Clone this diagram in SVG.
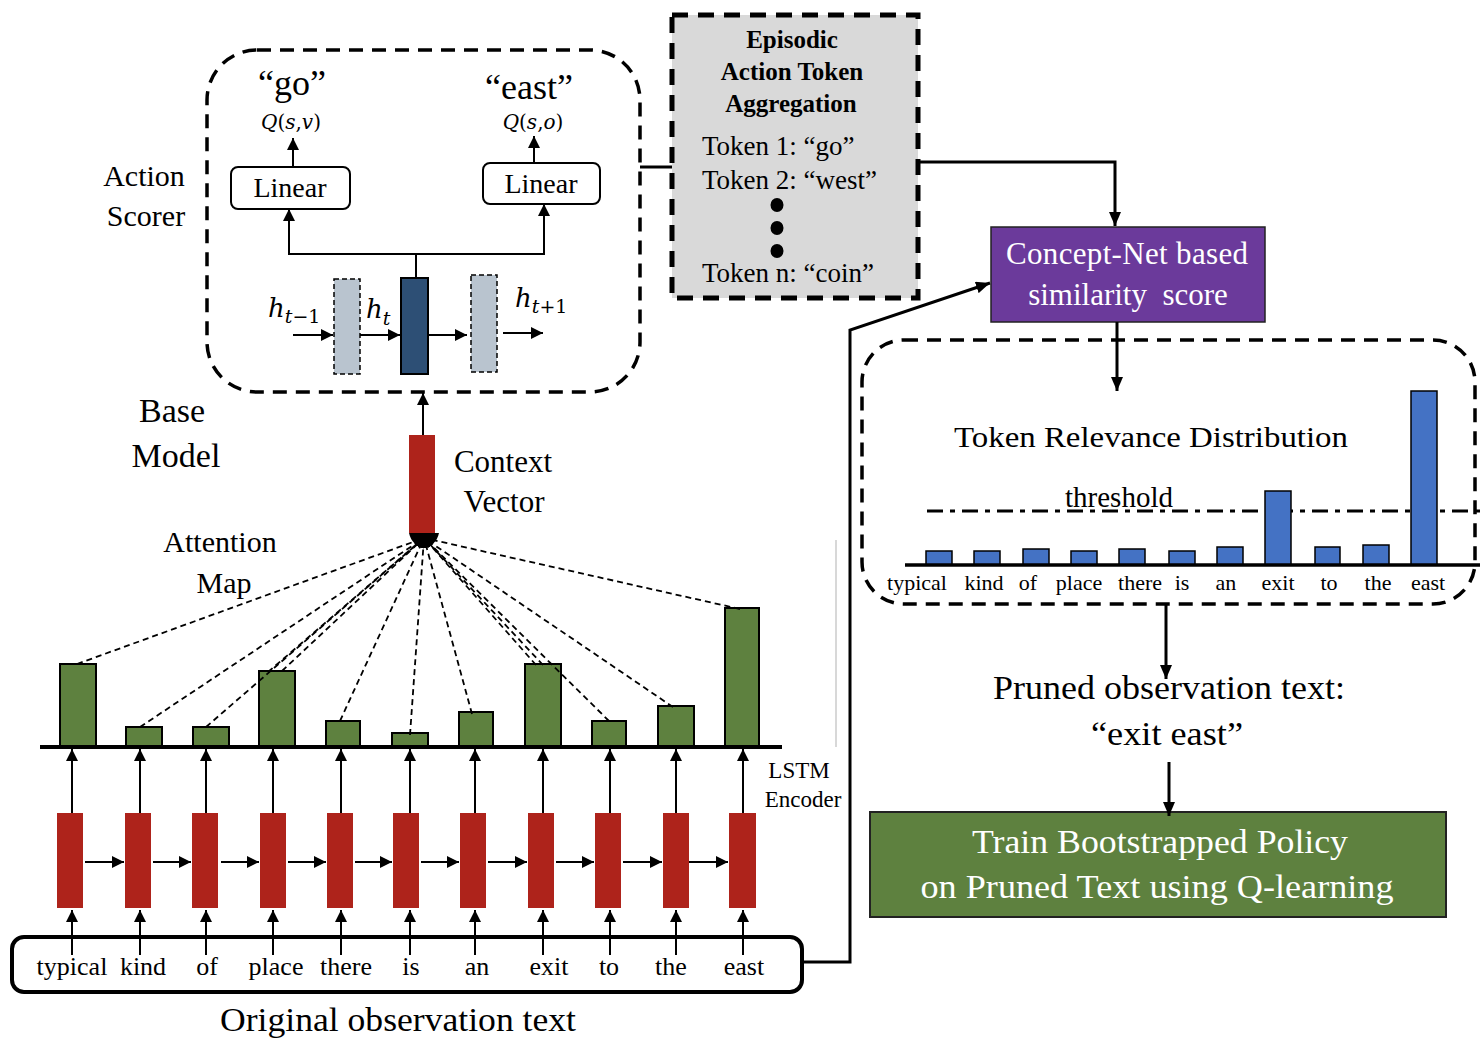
<svg xmlns="http://www.w3.org/2000/svg" width="1483" height="1045" viewBox="0 0 1483 1045">
<style>
text{font-family:"Liberation Serif","Times New Roman",serif;fill:#000}
.c{text-anchor:middle}
.w{fill:#fff}
.b{font-weight:bold}
.m{font-family:"DejaVu Serif","Liberation Serif",serif;font-style:italic}
.up{font-style:normal}
.dbox{fill:none;stroke:#000;stroke-width:3.5;stroke-dasharray:14 9}
.ln{stroke:#000;stroke-width:2;fill:none}
.lt{stroke:#000;stroke-width:3;fill:none}
.red{fill:#ae231b}
.gbar{fill:#5e813f;stroke:#000;stroke-width:2}
.bbar{fill:#4472c4;stroke:#000;stroke-width:1.5}
.att{stroke:#000;stroke-width:1.8;stroke-dasharray:6 4;fill:none}
</style>
<defs>
<marker id="a" markerUnits="userSpaceOnUse" markerWidth="12" markerHeight="12" refX="12" refY="6" orient="auto"><path d="M0,0 L12,6 L0,12 z" fill="#000"/></marker>
<marker id="ab" markerUnits="userSpaceOnUse" markerWidth="14" markerHeight="12" refX="14" refY="6" orient="auto"><path d="M0,0 L14,6 L0,12 z" fill="#000"/></marker>
<marker id="ah" markerUnits="userSpaceOnUse" markerWidth="10" markerHeight="8" refX="10" refY="4" orient="auto"><path d="M0,0 L10,4 L0,8 z" fill="#000"/></marker>
</defs>

<g id="action-scorer">
<rect class="dbox" x="207" y="50" width="433" height="342" rx="50"/>
<text class="c" x="292" y="95" font-size="36">“go”</text>
<text class="c" x="529" y="99" font-size="36">“east”</text>
<text class="c m" x="291" y="129" font-size="20">Q<tspan class="up">(</tspan>s<tspan class="up">,</tspan>v<tspan class="up">)</tspan></text>
<text class="c m" x="533" y="129" font-size="20">Q<tspan class="up">(</tspan>s<tspan class="up">,</tspan>o<tspan class="up">)</tspan></text>
<rect x="231" y="167" width="119" height="42" rx="7" fill="#fff" stroke="#000" stroke-width="2"/>
<text class="c" x="290" y="197" font-size="28">Linear</text>
<rect x="483" y="163" width="117" height="41" rx="7" fill="#fff" stroke="#000" stroke-width="2"/>
<text class="c" x="541" y="193" font-size="28">Linear</text>
<line class="ln" x1="293" y1="167" x2="293" y2="138" marker-end="url(#a)"/>
<line class="ln" x1="534" y1="163" x2="534" y2="136" marker-end="url(#a)"/>
<polyline class="ln" points="416,278 416,254 289,254 289,209" marker-end="url(#a)"/>
<polyline class="ln" points="416,254 544,254 544,204" marker-end="url(#a)"/>
<rect x="334" y="279" width="26" height="95" fill="#b9c4cf" stroke="#000" stroke-width="1.5" stroke-dasharray="5 3"/>
<rect x="401" y="278" width="27" height="96" fill="#2d4f75" stroke="#000" stroke-width="2"/>
<rect x="471" y="275" width="26" height="97" fill="#b9c4cf" stroke="#000" stroke-width="1.5" stroke-dasharray="5 3"/>
<line class="ln" x1="293" y1="335" x2="333" y2="335" marker-end="url(#a)"/>
<line class="ln" x1="360" y1="335" x2="400" y2="335" marker-end="url(#a)"/>
<line class="ln" x1="428" y1="335" x2="467" y2="335" marker-end="url(#a)"/>
<line class="ln" x1="503" y1="333" x2="543" y2="333" marker-end="url(#a)"/>
<text class="m" x="268" y="317" font-size="26">h<tspan font-size="19" dy="6">t<tspan class="up">−1</tspan></tspan></text>
<text class="m" x="366" y="318" font-size="26">h<tspan font-size="19" dy="7">t</tspan></text>
<text class="m" x="515" y="307" font-size="26">h<tspan font-size="19" dy="6">t<tspan class="up">+1</tspan></tspan></text>
</g>

<g id="labels-left">
<text class="c" x="144" y="186" font-size="30">Action</text>
<text class="c" x="146" y="226" font-size="30">Scorer</text>
<text class="c" x="172" y="422" font-size="34">Base</text>
<text class="c" x="176" y="467" font-size="34">Model</text>
<text class="c" x="220" y="552" font-size="30">Attention</text>
<text class="c" x="224" y="593" font-size="30">Map</text>
</g>

<g id="episodic">
<rect x="672" y="15" width="246" height="283" fill="#d9d9d9" stroke="#000" stroke-width="5" stroke-dasharray="16 10"/>
<text class="c b" x="792" y="48" font-size="25">Episodic</text>
<text class="c b" x="792" y="80" font-size="25">Action Token</text>
<text class="c b" x="791" y="112" font-size="25">Aggregation</text>
<text x="702" y="155" font-size="27">Token 1: “go”</text>
<text x="702" y="189" font-size="27">Token 2: “west”</text>
<ellipse cx="777" cy="205" rx="6.5" ry="7"/>
<ellipse cx="777" cy="228" rx="6.5" ry="7"/>
<ellipse cx="777" cy="251" rx="6.5" ry="7"/>
<text x="702" y="282" font-size="27">Token n: “coin”</text>
</g>

<g id="concept-net">
<rect x="991" y="227" width="274" height="95" fill="#6b3a9b" stroke="#222" stroke-width="1.5"/>
<text class="c w" x="1127" y="264" font-size="31" textLength="242">Concept-Net based</text>
<text class="c w" x="1128" y="305" font-size="31" xml:space="preserve">similarity  score</text>
</g>

<g id="relevance">
<rect class="dbox" x="862" y="340" width="613" height="264" rx="42"/>
<text class="c" x="1151" y="447" font-size="30" textLength="394" lengthAdjust="spacingAndGlyphs">Token Relevance Distribution</text>
<text class="c" x="1119" y="507" font-size="29">threshold</text>
<line x1="927" y1="511" x2="1480" y2="511" stroke="#000" stroke-width="3" stroke-dasharray="16 7 5 7"/>
<rect class="bbar" x="926" y="551" width="26" height="14"/>
<rect class="bbar" x="974" y="551" width="26" height="14"/>
<rect class="bbar" x="1023" y="549" width="26" height="16"/>
<rect class="bbar" x="1071" y="551" width="26" height="14"/>
<rect class="bbar" x="1119" y="549" width="26" height="16"/>
<rect class="bbar" x="1169" y="551" width="26" height="14"/>
<rect class="bbar" x="1217" y="547" width="26" height="18"/>
<rect class="bbar" x="1265" y="491" width="26" height="74"/>
<rect class="bbar" x="1315" y="547" width="25" height="18"/>
<rect class="bbar" x="1363" y="545" width="26" height="20"/>
<rect class="bbar" x="1411" y="391" width="26" height="174"/>
<line x1="905" y1="565" x2="1480" y2="565" stroke="#000" stroke-width="3.5"/>
<g font-size="22">
<text class="c" x="917" y="590">typical</text>
<text class="c" x="984" y="590">kind</text>
<text class="c" x="1028" y="590">of</text>
<text class="c" x="1079" y="590">place</text>
<text class="c" x="1140" y="590">there</text>
<text class="c" x="1182" y="590">is</text>
<text class="c" x="1226" y="590">an</text>
<text class="c" x="1278" y="590">exit</text>
<text class="c" x="1329" y="590">to</text>
<text class="c" x="1378" y="590">the</text>
<text class="c" x="1428" y="590">east</text>
</g>
</g>

<g id="pruned">
<text class="c" x="1169" y="699" font-size="33" textLength="352" lengthAdjust="spacingAndGlyphs">Pruned observation text:</text>
<text class="c" x="1167" y="745" font-size="33" textLength="152" lengthAdjust="spacingAndGlyphs">“exit east”</text>
</g>

<g id="train-policy">
<rect x="870" y="812" width="576" height="105" fill="#5e813f" stroke="#222" stroke-width="2"/>
<text class="c w" x="1160" y="853" font-size="34" textLength="376" lengthAdjust="spacingAndGlyphs">Train Bootstrapped Policy</text>
<text class="c w" x="1157" y="898" font-size="34" textLength="473" lengthAdjust="spacingAndGlyphs">on Pruned Text using Q-learning</text>
</g>

<g id="context-vector">
<rect class="red" x="409" y="435" width="26" height="98"/>
<path d="M409,533 L439,533 Q436,546 424,547 Q412,546 409,533 z" fill="#000"/>
<text class="c" x="503" y="472" font-size="31">Context</text>
<text class="c" x="504" y="512" font-size="31">Vector</text>
</g>

<g id="attention-bars">
<rect class="gbar" x="60" y="664" width="36" height="82"/>
<rect class="gbar" x="126" y="727" width="36" height="19"/>
<rect class="gbar" x="193" y="727" width="36" height="19"/>
<rect class="gbar" x="259" y="671" width="36" height="75"/>
<rect class="gbar" x="326" y="721" width="34" height="25"/>
<rect class="gbar" x="392" y="733" width="36" height="13"/>
<rect class="gbar" x="459" y="712" width="34" height="34"/>
<rect class="gbar" x="525" y="664" width="36" height="82"/>
<rect class="gbar" x="592" y="721" width="34" height="25"/>
<rect class="gbar" x="658" y="706" width="36" height="40"/>
<rect class="gbar" x="725" y="608" width="34" height="138"/>
<line x1="40" y1="747" x2="782" y2="747" stroke="#000" stroke-width="4"/>
</g>

<g id="lstm-encoder">
<rect class="red" x="57" y="813" width="26" height="95"/>
<rect class="red" x="125" y="813" width="26" height="95"/>
<rect class="red" x="192" y="813" width="26" height="95"/>
<rect class="red" x="260" y="813" width="26" height="95"/>
<rect class="red" x="327" y="813" width="26" height="95"/>
<rect class="red" x="393" y="813" width="26" height="95"/>
<rect class="red" x="460" y="813" width="26" height="95"/>
<rect class="red" x="528" y="813" width="26" height="95"/>
<rect class="red" x="595" y="813" width="26" height="95"/>
<rect class="red" x="663" y="813" width="26" height="95"/>
<rect class="red" x="729" y="813" width="27" height="95"/>
<text class="c" x="799" y="778" font-size="23">LSTM</text>
<text class="c" x="803" y="807" font-size="23">Encoder</text>
</g>

<g id="observation">
<rect x="12" y="937" width="790" height="55" rx="12" fill="none" stroke="#000" stroke-width="4"/>
<g font-size="26">
<text class="c" x="72" y="975">typical</text>
<text class="c" x="143" y="975">kind</text>
<text class="c" x="207" y="975">of</text>
<text class="c" x="276" y="975">place</text>
<text class="c" x="346" y="975">there</text>
<text class="c" x="411" y="975">is</text>
<text class="c" x="477" y="975">an</text>
<text class="c" x="549" y="975">exit</text>
<text class="c" x="609" y="975">to</text>
<text class="c" x="671" y="975">the</text>
<text class="c" x="744" y="975">east</text>
</g>
<text class="c" x="398" y="1031" font-size="34" textLength="356" lengthAdjust="spacingAndGlyphs">Original observation text</text>
</g>

<g id="connectors">
<line x1="640" y1="167" x2="672" y2="167" stroke="#000" stroke-width="3"/>
<polyline class="lt" points="918,162 1115,162 1115,226" marker-end="url(#ab)"/>
<polyline class="lt" points="802,962 850,962 850,330 990,283" marker-end="url(#ab)"/>
<line class="lt" x1="1117" y1="322" x2="1117" y2="391" marker-end="url(#ab)"/>
<line class="lt" x1="1166" y1="605" x2="1166" y2="679" marker-end="url(#ab)"/>
<line class="lt" x1="1169" y1="762" x2="1169" y2="816" marker-end="url(#ab)"/>
<line class="ln" x1="423" y1="435" x2="423" y2="393" marker-end="url(#a)"/>
<line x1="836" y1="540" x2="836" y2="747" stroke="#d8d8d8" stroke-width="2"/>
<g class="att">
<line x1="77" y1="664" x2="424" y2="538" marker-end="url(#ah)"/>
<line x1="140" y1="727" x2="424" y2="538" marker-end="url(#ah)"/>
<line x1="206" y1="727" x2="424" y2="538" marker-end="url(#ah)"/>
<line x1="268" y1="672" x2="424" y2="538" marker-end="url(#ah)"/>
<line x1="282" y1="671" x2="424" y2="538" marker-end="url(#ah)"/>
<line x1="340" y1="721" x2="424" y2="538" marker-end="url(#ah)"/>
<line x1="410" y1="735" x2="424" y2="538" marker-end="url(#ah)"/>
<line x1="472" y1="714" x2="424" y2="538" marker-end="url(#ah)"/>
<line x1="536" y1="665" x2="424" y2="538" marker-end="url(#ah)"/>
<line x1="543" y1="665" x2="424" y2="538" marker-end="url(#ah)"/>
<line x1="609" y1="721" x2="424" y2="538" marker-end="url(#ah)"/>
<line x1="673" y1="707" x2="424" y2="538" marker-end="url(#ah)"/>
<line x1="740" y1="609" x2="424" y2="538" marker-end="url(#ah)"/>
</g>
<g>
<line class="ln" x1="72" y1="813" x2="72" y2="749" marker-end="url(#a)"/>
<line class="ln" x1="140" y1="813" x2="140" y2="749" marker-end="url(#a)"/>
<line class="ln" x1="206" y1="813" x2="206" y2="749" marker-end="url(#a)"/>
<line class="ln" x1="273" y1="813" x2="273" y2="749" marker-end="url(#a)"/>
<line class="ln" x1="341" y1="813" x2="341" y2="749" marker-end="url(#a)"/>
<line class="ln" x1="410" y1="813" x2="410" y2="749" marker-end="url(#a)"/>
<line class="ln" x1="475" y1="813" x2="475" y2="749" marker-end="url(#a)"/>
<line class="ln" x1="543" y1="813" x2="543" y2="749" marker-end="url(#a)"/>
<line class="ln" x1="610" y1="813" x2="610" y2="749" marker-end="url(#a)"/>
<line class="ln" x1="676" y1="813" x2="676" y2="749" marker-end="url(#a)"/>
<line class="ln" x1="743" y1="813" x2="743" y2="749" marker-end="url(#a)"/>
</g>
<g>
<line class="ln" x1="72" y1="955" x2="72" y2="910" marker-end="url(#a)"/>
<line class="ln" x1="140" y1="955" x2="140" y2="910" marker-end="url(#a)"/>
<line class="ln" x1="206" y1="955" x2="206" y2="910" marker-end="url(#a)"/>
<line class="ln" x1="273" y1="955" x2="273" y2="910" marker-end="url(#a)"/>
<line class="ln" x1="341" y1="955" x2="341" y2="910" marker-end="url(#a)"/>
<line class="ln" x1="410" y1="955" x2="410" y2="910" marker-end="url(#a)"/>
<line class="ln" x1="475" y1="955" x2="475" y2="910" marker-end="url(#a)"/>
<line class="ln" x1="543" y1="955" x2="543" y2="910" marker-end="url(#a)"/>
<line class="ln" x1="610" y1="955" x2="610" y2="910" marker-end="url(#a)"/>
<line class="ln" x1="676" y1="955" x2="676" y2="910" marker-end="url(#a)"/>
<line class="ln" x1="743" y1="955" x2="743" y2="910" marker-end="url(#a)"/>
</g>
<g>
<line class="ln" x1="85" y1="862" x2="124" y2="862" marker-end="url(#a)"/>
<line class="ln" x1="153" y1="862" x2="191" y2="862" marker-end="url(#a)"/>
<line class="ln" x1="221" y1="862" x2="259" y2="862" marker-end="url(#a)"/>
<line class="ln" x1="288" y1="862" x2="326" y2="862" marker-end="url(#a)"/>
<line class="ln" x1="355" y1="862" x2="392" y2="862" marker-end="url(#a)"/>
<line class="ln" x1="421" y1="862" x2="459" y2="862" marker-end="url(#a)"/>
<line class="ln" x1="488" y1="862" x2="527" y2="862" marker-end="url(#a)"/>
<line class="ln" x1="556" y1="862" x2="594" y2="862" marker-end="url(#a)"/>
<line class="ln" x1="623" y1="862" x2="662" y2="862" marker-end="url(#a)"/>
<line class="ln" x1="689" y1="862" x2="728" y2="862" marker-end="url(#a)"/>
</g>
</g>
</svg>
